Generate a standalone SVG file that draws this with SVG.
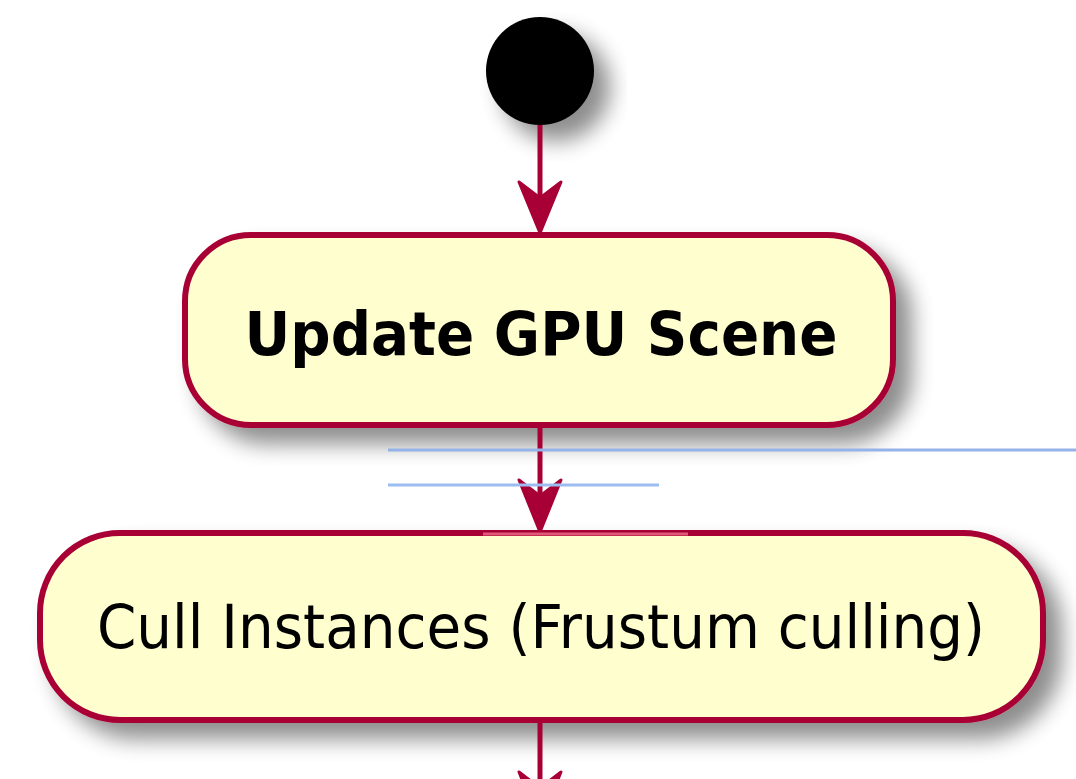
<svg xmlns="http://www.w3.org/2000/svg" width="1076" height="779" viewBox="0 0 1076 779">
<defs>
<filter id="sh" x="-20%" y="-20%" width="150%" height="170%">
<feGaussianBlur in="SourceAlpha" stdDeviation="11"/>
<feOffset dx="16" dy="16" result="b"/>
<feComponentTransfer><feFuncA type="linear" slope="0.45"/></feComponentTransfer>
<feMerge><feMergeNode/><feMergeNode in="SourceGraphic"/></feMerge>
</filter>
<style>
.act{fill:#FEFECE;stroke:#A80036;stroke-width:6}
.ln{stroke:#A80036;stroke-width:5;fill:none}
.ah{fill:#A80036;stroke:#A80036;stroke-width:3;stroke-linejoin:round}
.t{font-family:"DejaVu Sans","Liberation Sans",sans-serif;fill:#000}
</style>
</defs>
<rect width="1076" height="779" fill="#FFFFFF"/>
<g id="start" filter="url(#sh)">
<circle cx="540" cy="71" r="54" fill="#000"/>
</g>
<g id="update-gpu-scene" filter="url(#sh)">
<rect class="act" x="185" y="235" width="708" height="190" rx="66" ry="66"/>
<text class="t" x="541" y="355" font-size="60" font-weight="bold" text-anchor="middle" textLength="593" lengthAdjust="spacingAndGlyphs">Update GPU Scene</text>
</g>
<g id="cull-instances" filter="url(#sh)">
<rect class="act" x="40" y="533" width="1003" height="187" rx="80" ry="80"/>
<text class="t" x="541" y="648" font-size="60" text-anchor="middle" textLength="888" lengthAdjust="spacingAndGlyphs">Cull Instances (Frustum culling)</text>
</g>
<g id="connectors">
<line class="ln" x1="540" y1="125" x2="540" y2="225"/>
<polygon class="ah" points="540,233 519,182 540,198 561,182"/>
<line class="ln" x1="540" y1="428" x2="540" y2="524"/>
<polygon class="ah" points="540,532 519,480 540,496 561,480"/>
<line class="ln" x1="540" y1="723" x2="540" y2="779"/>
<polygon class="ah" points="540,824 519,772 540,788 561,772"/>
</g>
<g id="overlay">
<line x1="388" y1="450" x2="1076" y2="450" stroke="#94B4E8" stroke-width="3"/>
<line x1="388" y1="485" x2="659" y2="485" stroke="#9DBDF0" stroke-width="3"/>
<line x1="483" y1="534" x2="688" y2="534" stroke="#E05A78" stroke-width="3"/>
</g>
</svg>
